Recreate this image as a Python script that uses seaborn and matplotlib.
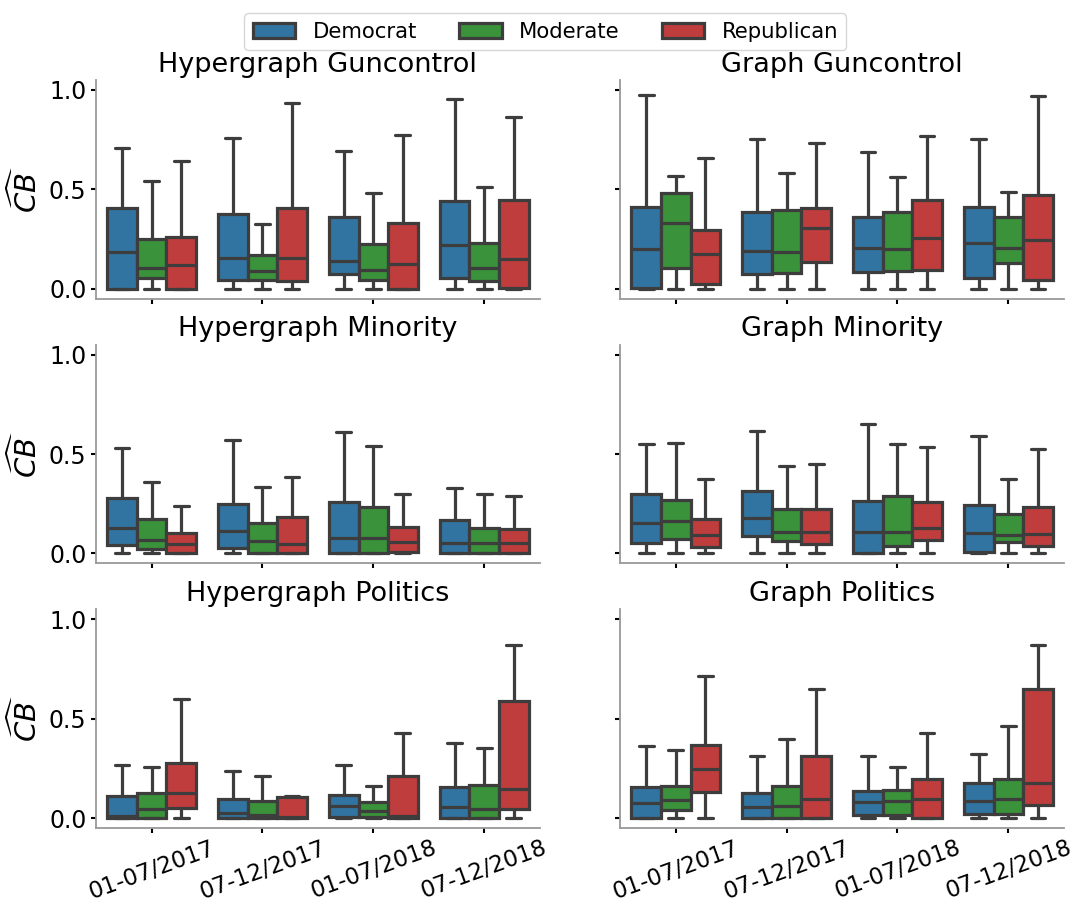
import numpy as np
import pandas as pd
import matplotlib
matplotlib.use("Agg")
import matplotlib.pyplot as plt
import seaborn as sns

PERIODS = ["01-07/2017", "07-12/2017", "01-07/2018", "07-12/2018"]
PARTIES = ["Democrat", "Moderate", "Republican"]
ROWS = ["Guncontrol", "Minority", "Politics"]
COLS = ["Hypergraph", "Graph"]
PALETTE = ["tab:blue", "tab:green", "tab:red"]

# Each tuple: (min, q1, median, q3, max) for one period
HG_GUN_DEM = [(0, 0.0, 0.184, 0.405, 0.71), (0, 0.042, 0.153, 0.376, 0.757), (0, 0.074, 0.137, 0.361, 0.693), (0, 0.052, 0.221, 0.44, 0.954)]
HG_GUN_MOD = [(0, 0.052, 0.105, 0.251, 0.54), (0, 0.042, 0.091, 0.169, 0.327), (0, 0.042, 0.093, 0.223, 0.481), (0, 0.039, 0.103, 0.228, 0.511)]
HG_GUN_REP = [(0, 0.0, 0.118, 0.258, 0.64), (0, 0.039, 0.157, 0.408, 0.936), (0, 0.0, 0.123, 0.329, 0.772), (0, 0.002, 0.148, 0.447, 0.862)]

G_GUN_DEM = [(0, 0.005, 0.199, 0.413, 0.975), (0, 0.074, 0.191, 0.388, 0.752), (0, 0.084, 0.207, 0.361, 0.686), (0, 0.052, 0.228, 0.413, 0.755)]
G_GUN_MOD = [(0, 0.103, 0.329, 0.481, 0.567), (0, 0.081, 0.187, 0.396, 0.582), (0, 0.088, 0.199, 0.388, 0.56), (0, 0.13, 0.204, 0.363, 0.486)]
G_GUN_REP = [(0, 0.022, 0.174, 0.295, 0.658), (0, 0.135, 0.305, 0.408, 0.735), (0, 0.093, 0.253, 0.444, 0.766), (0, 0.042, 0.245, 0.469, 0.971)]

HG_MIN_DEM = [(0, 0.04, 0.129, 0.281, 0.529), (0, 0.027, 0.111, 0.25, 0.568), (0, 0.0, 0.079, 0.261, 0.61), (0, 0.0, 0.05, 0.168, 0.328)]
HG_MIN_MOD = [(0, 0.02, 0.067, 0.171, 0.36), (0, 0.0, 0.064, 0.151, 0.333), (0, 0.002, 0.079, 0.232, 0.541), (0, 0.0, 0.054, 0.126, 0.297)]
HG_MIN_REP = [(0, 0.0, 0.045, 0.103, 0.237), (0, 0.0, 0.045, 0.182, 0.385), (0, 0.005, 0.057, 0.134, 0.297), (0, 0.0, 0.05, 0.123, 0.289)]

G_MIN_DEM = [(0, 0.052, 0.153, 0.299, 0.548), (0, 0.086, 0.178, 0.314, 0.618), (0, 0.0, 0.106, 0.266, 0.649), (0, 0.008, 0.104, 0.245, 0.59)]
G_MIN_MOD = [(0, 0.071, 0.161, 0.271, 0.555), (0, 0.064, 0.109, 0.222, 0.442), (0, 0.035, 0.106, 0.287, 0.55), (0, 0.06, 0.092, 0.196, 0.374)]
G_MIN_REP = [(0, 0.034, 0.092, 0.171, 0.373), (0, 0.047, 0.106, 0.222, 0.45), (0, 0.066, 0.129, 0.259, 0.536), (0, 0.035, 0.097, 0.231, 0.524)]

HG_POL_DEM = [(0, 0.0, 0.013, 0.11, 0.269), (0, 0.0, 0.025, 0.097, 0.237), (0, 0.005, 0.06, 0.115, 0.269), (0, 0.0, 0.054, 0.159, 0.376)]
HG_POL_MOD = [(0, 0.0, 0.045, 0.124, 0.258), (0, 0.0, 0.018, 0.084, 0.212), (0, 0.008, 0.035, 0.079, 0.164), (0, 0.0, 0.048, 0.169, 0.351)]
HG_POL_REP = [(0, 0.052, 0.127, 0.279, 0.599), (0, 0.0, 0.004, 0.105, 0.11), (0, 0.0, 0.013, 0.212, 0.43), (0, 0.047, 0.146, 0.587, 0.871)]

G_POL_DEM = [(0, 0.0, 0.075, 0.156, 0.365), (0, 0.0, 0.054, 0.125, 0.313), (0, 0.018, 0.082, 0.137, 0.311), (0, 0.023, 0.084, 0.176, 0.324)]
G_POL_MOD = [(0, 0.042, 0.089, 0.164, 0.341), (0, 0.0, 0.062, 0.164, 0.4), (0, 0.017, 0.084, 0.14, 0.256), (0, 0.02, 0.097, 0.196, 0.462)]
G_POL_REP = [(0, 0.129, 0.247, 0.37, 0.717), (0, 0.0, 0.097, 0.314, 0.647), (0, 0.0, 0.095, 0.196, 0.43), (0, 0.064, 0.178, 0.65, 0.873)]

PANELS = {
    ("Hypergraph", "Guncontrol"): (HG_GUN_DEM, HG_GUN_MOD, HG_GUN_REP),
    ("Graph", "Guncontrol"): (G_GUN_DEM, G_GUN_MOD, G_GUN_REP),
    ("Hypergraph", "Minority"): (HG_MIN_DEM, HG_MIN_MOD, HG_MIN_REP),
    ("Graph", "Minority"): (G_MIN_DEM, G_MIN_MOD, G_MIN_REP),
    ("Hypergraph", "Politics"): (HG_POL_DEM, HG_POL_MOD, HG_POL_REP),
    ("Graph", "Politics"): (G_POL_DEM, G_POL_MOD, G_POL_REP),
}

records = []
for (kind, topic), series in PANELS.items():
    for party, boxes in zip(PARTIES, series):
        for period, stats in zip(PERIODS, boxes):
            for v in stats:
                records.append((kind, topic, party, period, v))
df = pd.DataFrame(records, columns=["kind", "topic", "party", "period", "value"])

sns.set_style("ticks", {"axes.edgecolor": "0.6", "xtick.color": "black", "ytick.color": "black",
                        "text.color": "black", "axes.labelcolor": "black"})
plt.rcParams["font.family"] = ["DejaVu Sans"]
plt.rcParams["axes.linewidth"] = 1.3
plt.rcParams["xtick.major.size"] = 3.5
plt.rcParams["ytick.major.size"] = 3.5
plt.rcParams["xtick.major.width"] = 1.5
plt.rcParams["ytick.major.width"] = 1.5

fig, axes = plt.subplots(3, 2, figsize=(10.8, 9.08), dpi=100, sharex=True, sharey=True)

for r, topic in enumerate(ROWS):
    for c, kind in enumerate(COLS):
        ax = axes[r, c]
        sub = df[(df.kind == kind) & (df.topic == topic)]
        sns.boxplot(data=sub, x="period", y="value", hue="party", order=PERIODS,
                    hue_order=PARTIES, palette=PALETTE, whis=(0, 100),
                    showfliers=False, linewidth=2.3, ax=ax)
        ax.set_title(f"{kind} {topic}", fontsize=19.5, color="black")
        ax.set_ylabel(r"$\widehat{CB}$", fontsize=21, color="black")
        ax.set_xlabel("")
        ax.tick_params(axis="both", labelsize=17)
        sns.despine(ax=ax)

handles, labels = axes[0, 0].get_legend_handles_labels()
for ax in axes.flat:
    if ax.get_legend() is not None:
        ax.get_legend().remove()

axes[0, 0].set_ylim(-0.05, 1.05)
axes[0, 0].set_yticks([0.0, 0.5, 1.0])
for ax in axes[2, :]:
    ax.tick_params(axis="x", labelrotation=20, labelsize=16.5, pad=2.5)

fig.subplots_adjust(left=0.089, right=0.985, top=0.912, bottom=0.088, hspace=0.21, wspace=0.182)
leg = fig.legend(handles, labels, loc="upper center", bbox_to_anchor=(0.505, 0.997), ncol=3,
                 fontsize=15.3, frameon=True)
for t in leg.get_texts():
    t.set_color("black")

fig.savefig("out.png", dpi=100)
